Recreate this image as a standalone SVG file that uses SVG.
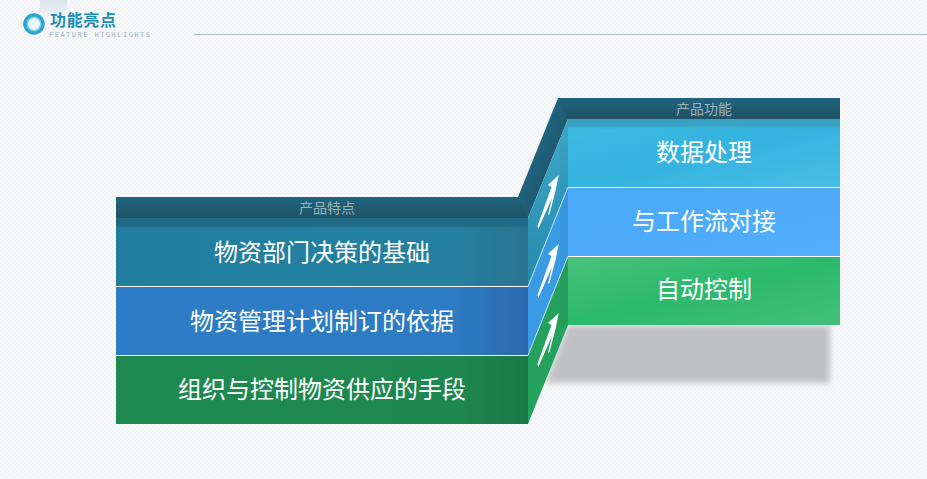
<svg xmlns="http://www.w3.org/2000/svg" xmlns:xlink="http://www.w3.org/1999/xlink" width="927" height="479" viewBox="0 0 927 479">
<style>
.t{font-family:"Noto Sans CJK SC","Liberation Sans",sans-serif;fill:#fff;font-size:24px;text-anchor:middle;font-weight:400}
.h{font-family:"Noto Sans CJK SC","Liberation Sans",sans-serif;fill:#9db4bd;font-size:14px;text-anchor:middle}
.sep{fill:#fff}
</style>
<defs>
<pattern id="bg" width="4" height="4" patternUnits="userSpaceOnUse"><rect width="4" height="4" fill="#f6f8fa"/><path d="M-1,1 L1,-1 M0,4 L4,0 M3,5 L5,3" stroke="#eef1f4" stroke-width="1"/></pattern>
<linearGradient id="hd" x1="0" y1="0" x2="0" y2="1"><stop offset="0" stop-color="#1f6580"/><stop offset="1" stop-color="#1f5266"/></linearGradient>
<linearGradient id="slope" x1="524" y1="170" x2="561" y2="185" gradientUnits="userSpaceOnUse"><stop offset="0" stop-color="#1f6580"/><stop offset="1" stop-color="#1f5266"/></linearGradient>
<linearGradient id="l1" x1="0" y1="0" x2="1" y2="0"><stop offset="0" stop-color="#217e9f"/><stop offset=".82" stop-color="#25809f"/><stop offset="1" stop-color="#2a7392"/></linearGradient>
<linearGradient id="l2" x1="0" y1="0" x2="1" y2="0"><stop offset="0" stop-color="#2d7cc6"/><stop offset=".82" stop-color="#2d7bc3"/><stop offset="1" stop-color="#2c6aae"/></linearGradient>
<linearGradient id="l3" x1="0" y1="0" x2="1" y2="0"><stop offset="0" stop-color="#1e8a50"/><stop offset=".82" stop-color="#1e874f"/><stop offset="1" stop-color="#1b7747"/></linearGradient>
<linearGradient id="bandL" x1="0" y1="0" x2="0" y2="1"><stop offset="0" stop-color="#216a86"/><stop offset=".75" stop-color="#216a86"/><stop offset="1" stop-color="#216a86" stop-opacity="0"/></linearGradient>
<linearGradient id="bandR" x1="0" y1="0" x2="0" y2="1"><stop offset="0" stop-color="#3aa2c3"/><stop offset=".7" stop-color="#3aa4c6"/><stop offset="1" stop-color="#3aa4c6" stop-opacity="0"/></linearGradient>
<linearGradient id="r1" x1="0" y1="0" x2="1" y2="1"><stop offset="0" stop-color="#40bbe2"/><stop offset=".5" stop-color="#33b3e0"/><stop offset="1" stop-color="#4abde4"/></linearGradient>
<linearGradient id="r2" x1="0" y1="0" x2="1" y2="1"><stop offset="0" stop-color="#4aa9fa"/><stop offset="1" stop-color="#52adfd"/></linearGradient>
<linearGradient id="r3" x1="0" y1="0" x2="1" y2="1"><stop offset="0" stop-color="#48c27e"/><stop offset=".5" stop-color="#2bb96c"/><stop offset="1" stop-color="#44c07c"/></linearGradient>
<linearGradient id="s1" x1="0" y1="0" x2="0" y2="1"><stop offset="0" stop-color="#3fa9cb"/><stop offset="1" stop-color="#2589aa"/></linearGradient>
<linearGradient id="top" x1="0" y1="0" x2="0" y2="1"><stop offset="0" stop-color="#d8e3ea"/><stop offset="1" stop-color="#eff3f6"/></linearGradient>
<filter id="blur" x="-10%" y="-20%" width="120%" height="140%"><feGaussianBlur stdDeviation="3"/></filter>
<path id="arrow" d="M558.7,175 L548,185 L551.5,187 L537.5,226 L538.3,229 L552,198 L548,215 L549.5,214 L555.5,191 Z" fill="#fff"/>
</defs>
<rect width="927" height="479" fill="url(#bg)"/>
<rect x="40" y="0" width="27" height="16" fill="url(#top)"/>
<g id="title">
<circle cx="34" cy="24" r="8.5" fill="#e8f5fa" stroke="#2aa6cf" stroke-width="4.5"/>
<circle cx="34" cy="24" r="6.8" fill="none" stroke="#7fd0e8" stroke-width="1.5"/>
<text x="50" y="25.5" font-family="'Noto Sans CJK SC',sans-serif" font-size="16" font-weight="700" fill="#1b8db6" textLength="66">功能亮点</text>
<text x="49" y="36.5" font-family="'DejaVu Sans Mono',monospace" font-size="7" fill="#a3b4ba" textLength="101">FEATURE HIGHLIGHTS</text>
</g>
<rect x="194" y="34" width="733" height="1" fill="#a5c3cb"/>
<polygon points="568,325 830,325 830,383 545,383" fill="#c0c1c3" filter="url(#blur)"/>
<g id="header-band">
<rect x="116" y="197" width="412" height="21" fill="url(#hd)"/>
<rect x="558" y="98" width="282" height="21" fill="url(#hd)"/>
<polygon points="518,197 558,98 568,119 528,218" fill="url(#slope)"/>
</g>
<g id="side-panels">
<polygon points="568,119 568,187 528,286 528,218" fill="url(#s1)"/>
<polygon points="568,188 568,256 528,355 528,287" fill="#3a9ae4"/>
<polygon points="568,257 568,325 528,424 528,356" fill="#25a15e"/>
<path d="M568,187 L528,286 M568,256 L528,355" stroke="#a9d9ec" stroke-width="1" fill="none"/>
<rect x="560" y="119" width="8" height="206" fill="#000" opacity=".02"/>
</g>
<g id="node-left-1"><rect x="116" y="218" width="412" height="68" fill="url(#l1)"/><rect x="116" y="218" width="412" height="10" fill="url(#bandL)"/><text class="t" x="322" y="261">物资部门决策的基础</text></g>
<rect class="sep" x="116" y="286" width="412" height="1"/>
<g id="node-left-2"><rect x="116" y="287" width="412" height="68" fill="url(#l2)"/><text class="t" x="322" y="330">物资管理计划制订的依据</text></g>
<rect class="sep" x="116" y="355" width="412" height="1"/>
<g id="node-left-3"><rect x="116" y="356" width="412" height="68" fill="url(#l3)"/><text class="t" x="322" y="398">组织与控制物资供应的手段</text></g>
<g id="node-right-1"><rect x="568" y="119" width="272" height="68" fill="url(#r1)"/><rect x="568" y="119" width="272" height="10" fill="url(#bandR)"/><text class="t" x="704" y="161">数据处理</text></g>
<rect class="sep" x="568" y="187" width="272" height="1"/>
<g id="node-right-2"><rect x="568" y="188" width="272" height="68" fill="url(#r2)"/><text class="t" x="704" y="230">与工作流对接</text></g>
<rect class="sep" x="568" y="256" width="272" height="1"/>
<g id="node-right-3"><rect x="568" y="257" width="272" height="68" fill="url(#r3)"/><text class="t" x="704" y="298">自动控制</text></g>
<text class="h" x="327" y="213">产品特点</text>
<text class="h" x="704" y="114">产品功能</text>
<g id="connectors">
<use xlink:href="#arrow" href="#arrow"/>
<use xlink:href="#arrow" href="#arrow" y="69"/>
<use xlink:href="#arrow" href="#arrow" y="138"/>
</g>
</svg>
